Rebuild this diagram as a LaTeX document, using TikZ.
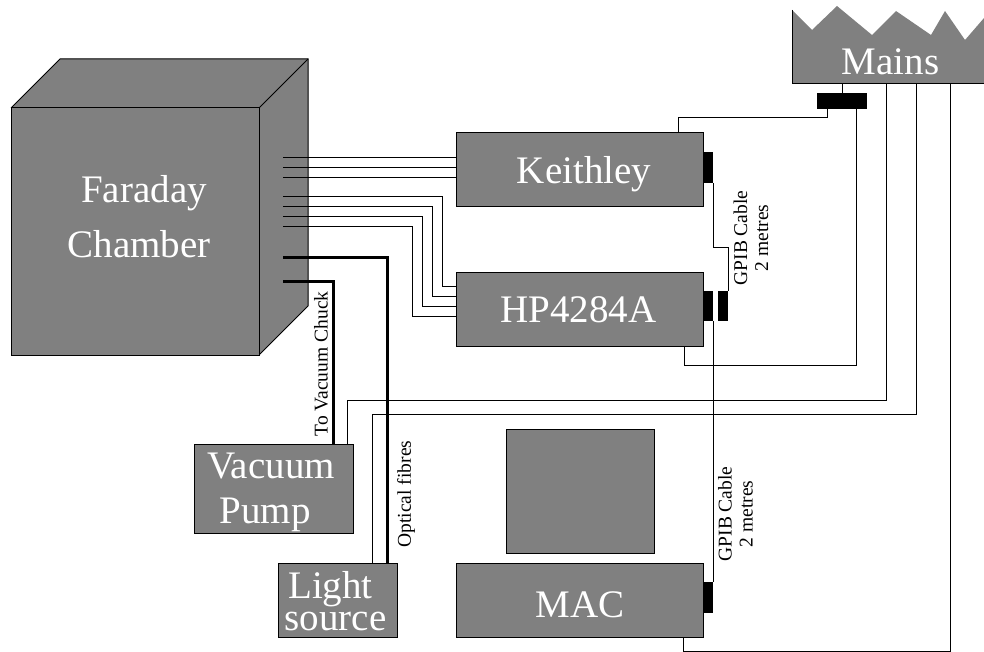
\documentclass[tikz,border=0pt]{standalone}
\usepackage{fontspec}
\setmainfont{Liberation Serif}
\usepackage{xcolor}
\usepackage{tikz}
\usetikzlibrary{positioning}
\definecolor{slab}{RGB}{128,128,128}

\begin{document}
\begin{tikzpicture}[x=1pt,y=-1pt,
  body/.style={draw=black,fill=slab,line width=1pt,inner sep=0pt},
  plug/.style={fill=black,inner sep=0pt},
  wire/.style={line width=1pt,black},
  fibre/.style={line width=3pt,black},
  title/.style={text=white,inner sep=0pt,anchor=base,font=\fontsize{39}{47}\selectfont},
  note/.style={rotate=90,align=center,inner sep=0pt,font=\fontsize{19.5}{21}\selectfont}]
  \useasboundingbox (0,0) rectangle (984,652);
  % chamber
  \fill[slab] (11,108) -- (60,59) -- (308,59) -- (308,306) -- (259,355) -- (11,355) -- cycle;
  \draw[line width=1pt] (11,108) -- (60,59) -- (308,59) -- (308,306) -- (259,355);
  \draw[line width=1pt] (259,108) -- (308,59);
  \node[body,minimum width=248,minimum height=247] (fc) at (135,231.5) {};
  \node[title] (fc1) at (144,203) {Faraday};
  \node[title] (fc2) at (139,257) {Chamber};
  % mains
  \fill[slab] (792,10) -- (812,30) -- (837,6) -- (872,35) -- (896,11) -- (931,35) -- (945,11) -- (965,40) -- (984,18) -- (984,84) -- (792,84) -- cycle;
  \draw[line width=1pt] (792,10) -- (792,84) -- (984,84);
  \node[title] (mains) at (890.5,75) {Mains};
  \node[plug,minimum width=50,minimum height=16] (strip) at (842,101) {};
  % instruments
  \node[body,minimum width=247,minimum height=74] (keith) at (579.5,170) {};
  \node[body,minimum width=247,minimum height=74] (hp) at (579.5,309) {};
  \node[body,minimum width=247,minimum height=74] (mac) at (579.5,600) {};
  \node[body,minimum width=148,minimum height=124] (screen) at (580,491) {};
  \node[body,minimum width=159,minimum height=89] (pump) at (273.5,488.5) {};
  \node[body,minimum width=119,minimum height=74] (light) at (337.5,600) {};
  \node[title] (keithtext) at (584,184) {Keithley};
  \node[title] (hptext) at (578.5,322) {HP4284A};
  \node[title] (mactext) at (580,617) {MAC};
  \node[title] (pump1) at (271,478) {Vacuum};
  \node[title] (pump2) at (265,523) {Pump};
  \node[title] (light1) at (330.5,598) {Light};
  \node[title] (light2) at (335.5,630) {source};
  % plugs
  \node[plug,minimum width=10,minimum height=31] (kplug) at (708,167.5) {};
  \node[plug,minimum width=10,minimum height=30] (hplug) at (708,306) {};
  \node[plug,minimum width=10,minimum height=30] (gplug) at (723,306) {};
  \node[plug,minimum width=10,minimum height=31] (mplug) at (708,597.5) {};
  % leads out of the chamber
  \foreach \y in {158,168,178}
    \draw[wire] (283,\y) -- (keith.west |- 0,\y);
  \foreach \y/\x/\t in {197/442/286,207/432/296,217/422/306,227/412/316}
    \draw[wire] (283,\y) -- (\x,\y) -- (\x,\t) -- (hp.west |- 0,\t);
  \coordinate (lead1) at (283,257);
  \coordinate (lead2) at (283,281);
  \draw[fibre] (lead1) -| (light.north -| 387,0);
  \draw[fibre] (lead2) -| (pump.north -| 333,0);
  % power
  \draw[wire] (842,84) -- (strip.north);
  \draw[wire] (strip.south -| 827,0) -- (827,118) -- (678,118) -- (keith.north -| 678,0);
  \draw[wire] (strip.south -| 856,0) -- (856,365) -- (684,365) -- (hp.south -| 684,0);
  \draw[wire] (886,84) -- (886,400) -- (347,400) -- (pump.north -| 347,0);
  \draw[wire] (916,84) -- (916,414) -- (372,414) -- (light.north -| 372,0);
  \draw[wire] (950,84) -- (950,651) -- (683,651) -- (mac.south -| 683,0);
  % gpib
  \draw[wire] (kplug.south -| 713,0) -- (713,247) -- (728,247) -- (gplug.north -| 728,0);
  \draw[wire] (hplug.south -| 713,0) -- (mplug.north -| 713,0);
  % labels
  \node[note] (gpib1) at (751,238) {GPIB Cable\\2 metres};
  \node[note] (gpib2) at (735.5,514) {GPIB Cable\\2 metres};
  \node[note] (vac) at (321,364) {To Vacuum Chuck};
  \node[note] (opt) at (406,494) {Optical fibres};
\end{tikzpicture}
\end{document}
